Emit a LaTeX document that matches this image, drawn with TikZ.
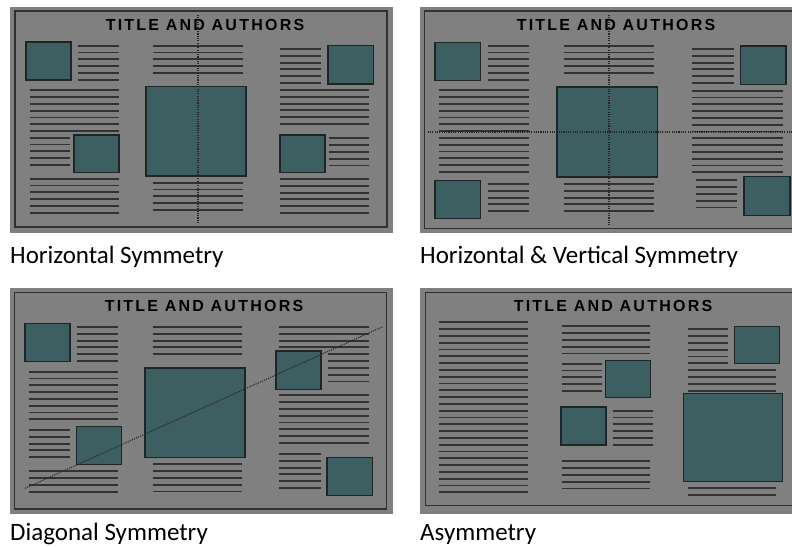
\documentclass[tikz,border=0pt]{standalone}
\usepackage{fontspec}
\setmainfont{Carlito}
\newfontfamily\titlefont[LetterSpace=14]{Liberation Sans}
\definecolor{panelbg}{RGB}{128,128,128}
\definecolor{boxfill}{RGB}{61,95,97}
\definecolor{boxline}{RGB}{28,38,38}
\definecolor{txtline}{RGB}{50,50,50}
\definecolor{frameline}{RGB}{48,48,48}
\tikzset{
  bg/.style={fill=panelbg, draw=none},
  frame/.style={draw=frameline, line width=1.2pt},
  boxst/.style={fill=boxfill, draw=boxline, line width=1.3pt},
  txt/.style={draw=txtline, line width=1.9pt},
  axis/.style={draw=black!85, line width=1.1pt, dash pattern=on 1.1pt off 1.2pt},
  ttl/.style={font=\titlefont\bfseries\fontsize{16}{18}\selectfont, inner sep=0pt, anchor=center},
  lbl/.style={font=\fontsize{25}{30}\selectfont, inner sep=0pt, anchor=base west}
}
\newcommand\mylines[4]{\foreach \k in {1,...,#4}{\draw[txt] (#1,{#3+(\k-1)*6.8}) -- (#2,{#3+(\k-1)*6.8});}}
\newcommand\mybox[4]{\draw[boxst] (#1,#2) rectangle (#3,#4);}
\begin{document}
\begin{tikzpicture}[x=1pt,y=-1pt]
\useasboundingbox (0,0) rectangle (792,546);
\fill[white] (0,0) rectangle (792,546);
% ================= Panel 1: Horizontal Symmetry
\fill[bg] (10,7) rectangle (393,233);
\draw[frame] (15,11) rectangle (387,227);
\node[ttl] (t1) at (205,24.5) {TITLE AND AUTHORS};
\mybox{26}{42}{71}{80}
\mylines{78}{119}{45.7}{6}
\mylines{30}{119}{90.3}{7}
\mylines{30}{70}{137.7}{5}
\mybox{74}{135}{119}{172.7}
\mylines{30}{119}{178.7}{6}
\mylines{153.3}{242.7}{45.7}{5}
\mybox{146}{86.3}{246}{176}
\mylines{153.3}{242.7}{182.7}{5}
\mylines{280}{321}{49}{6}
\mybox{328}{45.7}{373.7}{84}
\mylines{280}{369.3}{90}{6}
\mybox{280}{135}{325}{172.7}
\mylines{328.7}{369.3}{138.3}{5}
\mylines{280}{369.3}{179}{6}
\coordinate (v1a) at (198,15);
\coordinate (v1b) at (198,223);
\draw[axis] (v1a) -- (v1b);
\node[lbl] (l1) at (10,263) {Horizontal Symmetry};
% ================= Panel 2: Horizontal & Vertical Symmetry
\fill[bg] (420,7) rectangle (792,233);
\draw[frame] (793,11) -- (424.3,11) -- (424.3,228.3) -- (793,228.3);
\node[ttl] (t2) at (616,25) {TITLE AND AUTHORS};
\mybox{435}{42.3}{480.3}{80.7}
\mylines{487.7}{529}{45.7}{6}
\mylines{439}{529}{90.3}{13}
\mybox{435}{180.7}{480.3}{218.7}
\mylines{487.7}{529}{184}{5}
\mylines{563.7}{654}{45.7}{5}
\mybox{557}{87}{657.7}{177}
\mylines{563.7}{654}{184}{5}
\mylines{692.3}{734}{49}{6}
\mybox{740.7}{46}{786}{84.3}
\mylines{692.3}{782.7}{90.7}{13}
\mylines{696}{737.3}{180.3}{5}
\mybox{744}{176.7}{790}{215.3}
\coordinate (v2a) at (609,15);
\coordinate (v2b) at (609,225);
\coordinate (h2a) at (427.7,132);
\coordinate (h2b) at (792,132);
\draw[axis] (v2a) -- (v2b);
\draw[axis] (h2a) -- (h2b);
\node[lbl] (l2) at (420,263) {Horizontal \& Vertical Symmetry};
% ================= Panel 3: Diagonal Symmetry
\fill[bg] (10,288) rectangle (393,514);
\draw[frame] (14.3,292.3) rectangle (386.7,509);
\node[ttl] (t3) at (204,306) {TITLE AND AUTHORS};
\mybox{25}{323.3}{70}{361.7}
\mylines{76.7}{117.7}{327}{6}
\mylines{28.7}{117.7}{371.7}{8}
\mylines{28.7}{70}{430}{5}
\mybox{76.3}{426.7}{121.3}{464.7}
\mylines{28.7}{117.7}{471.3}{4}
\mylines{152.7}{242}{327}{5}
\mybox{145}{368}{245}{457.7}
\mylines{152.7}{242}{464.3}{5}
\mylines{279.3}{368.7}{327}{4}
\mybox{276}{351}{321}{389.3}
\mylines{328.3}{368.7}{354.3}{5}
\mylines{279.3}{368.7}{395.3}{8}
\mylines{279.3}{320.7}{454}{6}
\mybox{327}{457.3}{372.7}{495.7}
\coordinate (d3a) at (25,488.3);
\coordinate (d3b) at (382.7,326.7);
\draw[axis] (d3a) -- (d3b);
\node[lbl] (l3) at (10,540) {Diagonal Symmetry};
% ================= Panel 4: Asymmetry
\fill[bg] (420,288) rectangle (792,514);
\draw[frame] (793,292.3) -- (425.7,292.3) -- (425.7,505.5) -- (793,505.5);
\node[ttl] (t4) at (613,305.5) {TITLE AND AUTHORS};
\mylines{439.3}{527.7}{322.3}{26}
\mylines{561.7}{650}{326.3}{5}
\mylines{561.7}{601.7}{363.7}{5}
\mybox{605.7}{360.3}{650.3}{397.7}
\mybox{561}{407}{606}{445}
\mylines{612.7}{653.3}{410.7}{6}
\mylines{561.7}{650}{461.3}{5}
\mylines{687.7}{728}{329.3}{6}
\mybox{734.7}{326.3}{779.3}{363.7}
\mylines{687.7}{775.7}{370.3}{4}
\mybox{683.7}{393.7}{782.3}{481.7}
\mylines{687.7}{775.7}{488.3}{2}
\node[lbl] (l4) at (420,540) {Asymmetry};
\end{tikzpicture}
\end{document}
